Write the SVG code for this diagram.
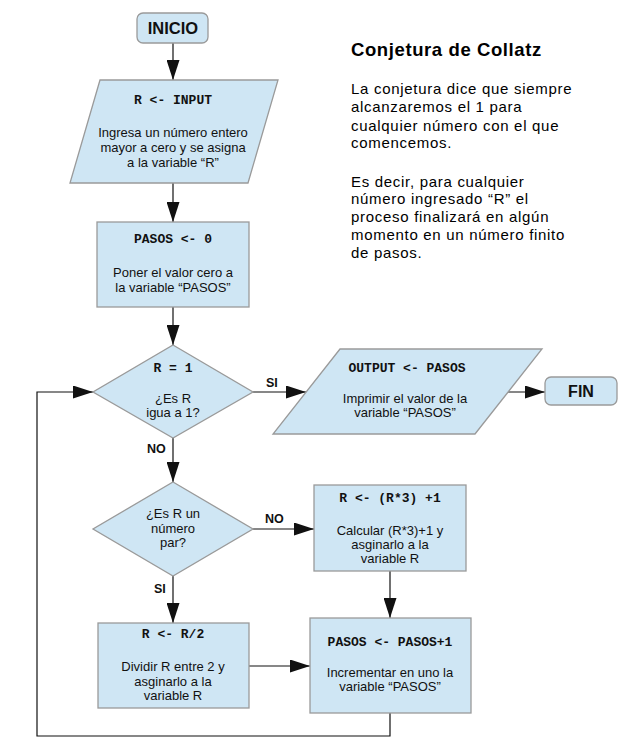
<svg xmlns="http://www.w3.org/2000/svg" width="635" height="748" viewBox="0 0 635 748">
<style>
.shape{fill:#cfe6f4;stroke:#9a9a9a;stroke-width:1.3}
.t{font-family:"Liberation Sans",Arial,sans-serif;font-size:13px;fill:#111;text-anchor:middle}
.m{font-family:"Liberation Mono","Courier New",monospace;font-size:13px;font-weight:bold;fill:#111;text-anchor:middle}
.b{font-family:"Liberation Sans",Arial,sans-serif;font-weight:bold;fill:#111;text-anchor:middle}
.lbl{font-family:"Liberation Sans",Arial,sans-serif;font-weight:bold;font-size:12.5px;fill:#111}
.side{font-family:"Liberation Sans",Arial,sans-serif;font-size:15px;fill:#000;letter-spacing:0.7px}
.c{fill:none;stroke:#111;stroke-width:1.2}
</style>
<defs>
<marker id="ah" viewBox="0 0 20 13" refX="20" refY="6.5" markerWidth="20" markerHeight="13" markerUnits="userSpaceOnUse" orient="auto">
<path d="M0,0 L20,6.5 L0,13 Z" fill="#111"/>
</marker>
</defs>
<g id="connectors">
<path class="c" d="M173,43 V80" marker-end="url(#ah)"/>
<path class="c" d="M173,183 V222" marker-end="url(#ah)"/>
<path class="c" d="M173,307 V345" marker-end="url(#ah)"/>
<path class="c" d="M253,392 H306" marker-end="url(#ah)"/>
<path class="c" d="M508,392 H545" marker-end="url(#ah)"/>
<path class="c" d="M173,438 V482" marker-end="url(#ah)"/>
<path class="c" d="M253,529 H314" marker-end="url(#ah)"/>
<path class="c" d="M173,576 V623" marker-end="url(#ah)"/>
<path class="c" d="M390,571 V618" marker-end="url(#ah)"/>
<path class="c" d="M249,666 H310" marker-end="url(#ah)"/>
<path class="c" d="M390,713 V736 H37 V392 H93" marker-end="url(#ah)"/>
<text class="lbl" x="266" y="387">SI</text>
<text class="lbl" x="147" y="453">NO</text>
<text class="lbl" x="265" y="523">NO</text>
<text class="lbl" x="154" y="593">SI</text>
</g>
<g id="inicio">
<rect class="shape" x="137" y="13" width="71" height="30" rx="6"/>
<text class="b" x="173" y="34" font-size="16.5px">INICIO</text>
</g>
<g id="input">
<path class="shape" d="M100,80 H278 L248,183 H70 Z"/>
<text class="m" x="173" y="104">R &lt;- INPUT</text>
<text class="t" x="173" y="137">Ingresa un número entero</text>
<text class="t" x="173" y="152">mayor a cero y se asigna</text>
<text class="t" x="173" y="167">a la variable “R”</text>
</g>
<g id="pasos0">
<rect class="shape" x="97" y="222" width="152" height="85"/>
<text class="m" x="173" y="243">PASOS &lt;- 0</text>
<text class="t" x="173" y="277">Poner el valor cero a</text>
<text class="t" x="173" y="292">la variable “PASOS”</text>
</g>
<g id="decision1">
<path class="shape" d="M173,345 L253,392 L173,438 L93,392 Z"/>
<text class="m" x="173" y="372">R = 1</text>
<text class="t" x="173" y="403">¿Es R</text>
<text class="t" x="173" y="417">igua a 1?</text>
</g>
<g id="output">
<path class="shape" d="M340,349 H542 L475,434 H273 Z"/>
<text class="m" x="407" y="372">OUTPUT &lt;- PASOS</text>
<text class="t" x="405" y="403">Imprimir el valor de la</text>
<text class="t" x="405" y="417">variable “PASOS”</text>
</g>
<g id="fin">
<rect class="shape" x="545" y="377" width="72" height="28" rx="6"/>
<text class="b" x="581" y="397" font-size="16px">FIN</text>
</g>
<g id="decision2">
<path class="shape" d="M173,482 L253,529 L173,576 L93,529 Z"/>
<text class="t" x="173" y="518">¿Es R un</text>
<text class="t" x="173" y="533">número</text>
<text class="t" x="173" y="547">par?</text>
</g>
<g id="triple">
<rect class="shape" x="314" y="485" width="152" height="86"/>
<text class="m" x="390" y="502">R &lt;- (R*3) +1</text>
<text class="t" x="390" y="535">Calcular (R*3)+1 y</text>
<text class="t" x="390" y="549">asginarlo a la</text>
<text class="t" x="390" y="563">variable R</text>
</g>
<g id="half">
<rect class="shape" x="98" y="623" width="151" height="85"/>
<text class="m" x="173" y="638">R &lt;- R/2</text>
<text class="t" x="173" y="671">Dividir R entre 2 y</text>
<text class="t" x="173" y="686">asginarlo a la</text>
<text class="t" x="173" y="700">variable R</text>
</g>
<g id="incr">
<rect class="shape" x="310" y="618" width="161" height="95"/>
<text class="m" x="390" y="646">PASOS &lt;- PASOS+1</text>
<text class="t" x="390" y="677">Incrementar en uno la</text>
<text class="t" x="390" y="691">variable “PASOS”</text>
</g>
<g id="description">
<text x="351" y="56" font-family="Liberation Sans, Arial, sans-serif" font-weight="bold" font-size="18.5px" letter-spacing="0.6px" fill="#000">Conjetura de Collatz</text>
<text class="side" x="351" y="94">La conjetura dice que siempre</text>
<text class="side" x="351" y="112">alcanzaremos el 1 para</text>
<text class="side" x="351" y="131">cualquier número con el que</text>
<text class="side" x="351" y="148">comencemos.</text>
<text class="side" x="351" y="187">Es decir, para cualquier</text>
<text class="side" x="351" y="204">número ingresado “R” el</text>
<text class="side" x="351" y="222">proceso finalizará en algún</text>
<text class="side" x="351" y="240">momento en un número finito</text>
<text class="side" x="351" y="258">de pasos.</text>
</g>
</svg>
